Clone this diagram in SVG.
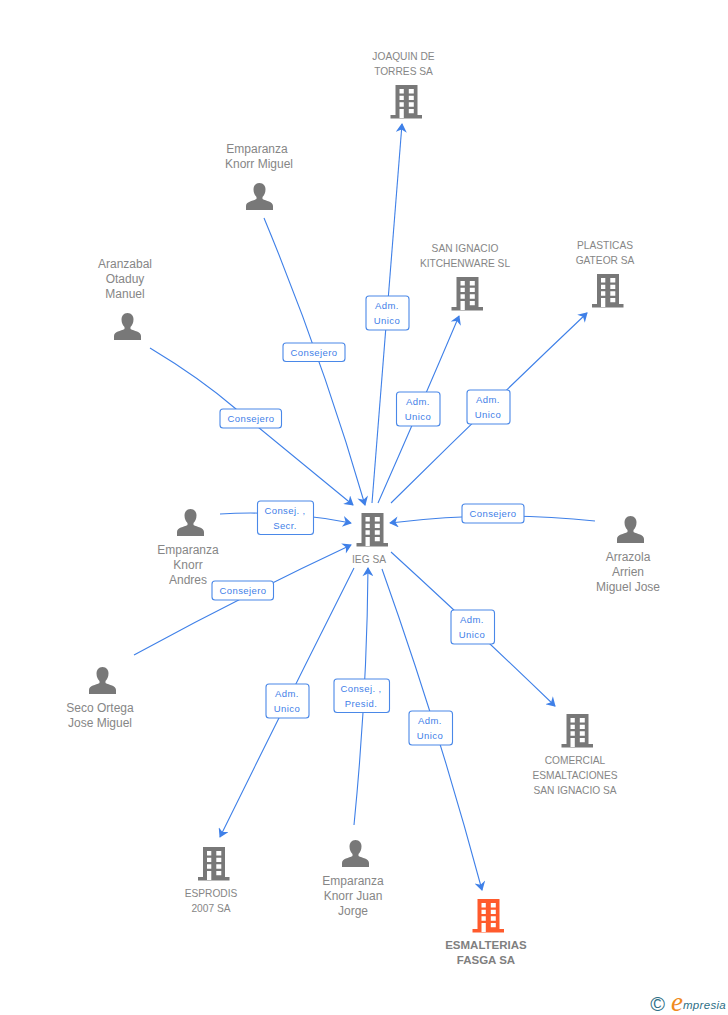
<svg xmlns="http://www.w3.org/2000/svg" width="728" height="1015" viewBox="0 0 728 1015">
<style>
text{font-family:"Liberation Sans",Arial,sans-serif;text-anchor:middle}
.c{font-size:10.2px;fill:#868686}
.p{font-size:12px;fill:#868686}
.m{font-size:11.5px;font-weight:bold;fill:#7f7f7f}
.l{font-size:9.5px;letter-spacing:.4px;fill:#3f80e8}
.b{fill:#fff;stroke:#4a88e8;stroke-width:1.1}
.e{fill:none;stroke:#3f80e8;stroke-width:1.1;marker-end:url(#a)}
</style>
<defs>
<marker id="a" markerUnits="userSpaceOnUse" markerWidth="11" markerHeight="11" refX="11" refY="6" orient="auto" viewBox="0 0 12 12"><path d="M2 0L12 6L2 12L5 6Z" fill="#3f80e8"/></marker>
<g id="bld">
<path fill-rule="evenodd" d="M5 0H27V30H31.500V33.500H0V30H5ZM9 4V8.500H13.300V4ZM18.300 4V8.500H23.300V4ZM9 10.700V15H13.300V10.700ZM18.300 10.700V15H23.300V10.700ZM9 17.300V21.700H13.300V17.300ZM18.300 17.300V21.700H23.300V17.300ZM9 24V33H13.300V24ZM18.300 24V28.300H23.300V24Z"/>
</g>
<path id="per" d="M13.500 0C17.500 0 19.500 3 19.500 6.500C19.500 10 18 12.500 16.500 14V16C20 18 27 18.500 27 23V27H0V23C0 18.500 7 18 10.500 16V14C9 12.500 7.500 10 7.500 6.500C7.500 3 9.500 0 13.500 0Z"/>
</defs>
<rect width="728" height="1015" fill="#fff"/>
<g id="connectors">
<path class="e" d="M372 503Q387 313 402 124"/>
<path class="e" d="M264 218Q323 360 365 505"/>
<path class="e" d="M150 348Q200 378 236 409L353 505"/>
<path class="e" d="M378 503Q420 408 459 316"/>
<path class="e" d="M391 503Q488 407 587 313"/>
<path class="e" d="M220 514Q285 510 351 523"/>
<path class="e" d="M595 521Q492 510 390 523"/>
<path class="e" d="M134 655Q240 597 351 545"/>
<path class="e" d="M391 552Q471 625 555 706"/>
<path class="e" d="M354 568Q287 701 220 837"/>
<path class="e" d="M354 825Q367 694 368 568"/>
<path class="e" d="M382 569Q438 726 482 890"/>
</g>
<g id="edge-labels">
<g><rect class="b" x="283" y="343" width="62" height="18.500" rx="3"/><text class="l" x="314" y="356">Consejero</text></g>
<g><rect class="b" x="366" y="296" width="43" height="34" rx="3"/><text class="l" x="387" y="309">Adm.</text><text class="l" x="387" y="324">Unico</text></g>
<g><rect class="b" x="220" y="409" width="61.500" height="19" rx="3"/><text class="l" x="251" y="422">Consejero</text></g>
<g><rect class="b" x="396.500" y="392" width="43.500" height="34" rx="3"/><text class="l" x="418" y="405">Adm.</text><text class="l" x="418" y="420">Unico</text></g>
<g><rect class="b" x="467" y="390" width="43" height="34" rx="3"/><text class="l" x="488" y="403">Adm.</text><text class="l" x="488" y="418">Unico</text></g>
<g><rect class="b" x="257.500" y="501" width="56" height="33.500" rx="3"/><text class="l" x="285" y="514">Consej. ,</text><text class="l" x="285" y="529">Secr.</text></g>
<g><rect class="b" x="462" y="504" width="62" height="19" rx="3"/><text class="l" x="493" y="517">Consejero</text></g>
<g><rect class="b" x="212" y="581" width="61.500" height="19" rx="3"/><text class="l" x="243" y="594">Consejero</text></g>
<g><rect class="b" x="451" y="610" width="43.500" height="34" rx="3"/><text class="l" x="472" y="623">Adm.</text><text class="l" x="472" y="638">Unico</text></g>
<g><rect class="b" x="266" y="684" width="43" height="34" rx="3"/><text class="l" x="287" y="697">Adm.</text><text class="l" x="287" y="712">Unico</text></g>
<g><rect class="b" x="334" y="679" width="55.500" height="33.500" rx="3"/><text class="l" x="361" y="692">Consej. ,</text><text class="l" x="361" y="707">Presid.</text></g>
<g><rect class="b" x="409" y="711" width="43.500" height="34" rx="3"/><text class="l" x="430" y="724">Adm.</text><text class="l" x="430" y="739">Unico</text></g>
</g>
<g id="n-joaquin"><use href="#bld" x="390.500" y="85" fill="#787878"/><text class="c" x="403.500" y="60">JOAQUIN DE</text><text class="c" x="403.500" y="75">TORRES SA</text></g>
<g id="n-empkm"><use href="#per" x="246" y="183" fill="#787878"/><text class="p" x="257" y="153">Emparanza</text><text class="p" x="259" y="168">Knorr Miguel</text></g>
<g id="n-aranzabal"><use href="#per" x="114" y="313" fill="#787878"/><text class="p" x="125" y="268">Aranzabal</text><text class="p" x="125" y="283">Otaduy</text><text class="p" x="125" y="298">Manuel</text></g>
<g id="n-sanignacio"><use href="#bld" x="451.500" y="277" fill="#787878"/><text class="c" x="465" y="252">SAN IGNACIO</text><text class="c" x="465" y="267">KITCHENWARE SL</text></g>
<g id="n-plasticas"><use href="#bld" x="592" y="274" fill="#787878"/><text class="c" x="605" y="249">PLASTICAS</text><text class="c" x="605" y="264">GATEOR SA</text></g>
<g id="n-ieg"><use href="#bld" x="356.500" y="513" fill="#787878"/><text class="c" x="369" y="563">IEG SA</text></g>
<g id="n-empka"><use href="#per" x="177" y="509" fill="#787878"/><text class="p" x="188" y="554">Emparanza</text><text class="p" x="188" y="569">Knorr</text><text class="p" x="188" y="584">Andres</text></g>
<g id="n-arrazola"><use href="#per" x="617" y="516" fill="#787878"/><text class="p" x="628" y="561">Arrazola</text><text class="p" x="628" y="576">Arrien</text><text class="p" x="628" y="591">Miguel Jose</text></g>
<g id="n-seco"><use href="#per" x="89" y="667" fill="#787878"/><text class="p" x="100" y="712">Seco Ortega</text><text class="p" x="100" y="727">Jose Miguel</text></g>
<g id="n-comercial"><use href="#bld" x="561.500" y="714" fill="#787878"/><text class="c" x="575" y="764">COMERCIAL</text><text class="c" x="575" y="779">ESMALTACIONES</text><text class="c" x="575" y="794">SAN IGNACIO SA</text></g>
<g id="n-esprodis"><use href="#bld" x="198" y="847" fill="#787878"/><text class="c" x="211" y="897">ESPRODIS</text><text class="c" x="211" y="912">2007 SA</text></g>
<g id="n-empjj"><use href="#per" x="342" y="840" fill="#787878"/><text class="p" x="353" y="885">Emparanza</text><text class="p" x="353" y="900">Knorr Juan</text><text class="p" x="353" y="915">Jorge</text></g>
<g id="n-esmalterias"><use href="#bld" x="472.500" y="899" fill="#ff5a2c"/><text class="m" x="486" y="949">ESMALTERIAS</text><text class="m" x="486" y="964">FASGA SA</text></g>
<g id="logo">
<text x="657.500" y="1011" font-size="20" fill="#2f6f86">©</text>
<text x="677" y="1011" font-size="27" font-style="italic" fill="#f08a1d" style="font-family:'Liberation Serif',serif">e</text>
<text x="704.500" y="1009" font-size="11.500" font-style="italic" letter-spacing=".3" fill="#2f6f86">mpresia</text>
</g>
</svg>
